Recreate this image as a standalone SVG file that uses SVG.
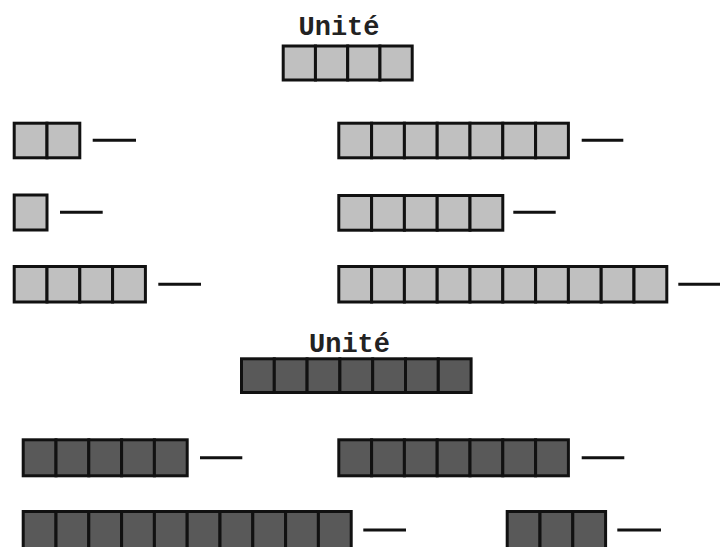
<svg xmlns="http://www.w3.org/2000/svg" width="720" height="547" viewBox="0 0 720 547">
<style>
.l{fill:#c0c0c0;stroke:#111;stroke-width:3}
.d{fill:#595959;stroke:#111;stroke-width:3}
.t{font-family:"Liberation Mono","DejaVu Sans Mono",monospace;font-weight:bold;font-size:27px;fill:#222;text-anchor:middle}
.b{stroke:#111;stroke-width:3;fill:none}
</style>
<rect width="720" height="547" fill="#fff"/>
<g id="unit-light">
<text class="t" x="339" y="35">Unité</text>
<rect class="l" x="283.2" y="46" width="32.25" height="34"/><rect class="l" x="315.45" y="46" width="32.25" height="34"/><rect class="l" x="347.7" y="46" width="32.25" height="34"/><rect class="l" x="379.95" y="46" width="32.25" height="34"/>
</g>
<g id="light-l1">
<rect class="l" x="14.2" y="123.2" width="32.8" height="34.6"/><rect class="l" x="47" y="123.2" width="32.8" height="34.6"/>
</g>
<g id="light-l2">
<rect class="l" x="14.2" y="195" width="32.8" height="35"/>
</g>
<g id="light-l3">
<rect class="l" x="14.2" y="266.5" width="32.8" height="35.5"/><rect class="l" x="47" y="266.5" width="32.8" height="35.5"/><rect class="l" x="79.8" y="266.5" width="32.8" height="35.5"/><rect class="l" x="112.6" y="266.5" width="32.8" height="35.5"/>
</g>
<g id="light-r1">
<rect class="l" x="338.8" y="123.2" width="32.8" height="34.6"/><rect class="l" x="371.6" y="123.2" width="32.8" height="34.6"/><rect class="l" x="404.4" y="123.2" width="32.8" height="34.6"/><rect class="l" x="437.2" y="123.2" width="32.8" height="34.6"/><rect class="l" x="470" y="123.2" width="32.8" height="34.6"/><rect class="l" x="502.8" y="123.2" width="32.8" height="34.6"/><rect class="l" x="535.6" y="123.2" width="32.8" height="34.6"/>
</g>
<g id="light-r2">
<rect class="l" x="338.8" y="195.5" width="32.8" height="34.7"/><rect class="l" x="371.6" y="195.5" width="32.8" height="34.7"/><rect class="l" x="404.4" y="195.5" width="32.8" height="34.7"/><rect class="l" x="437.2" y="195.5" width="32.8" height="34.7"/><rect class="l" x="470" y="195.5" width="32.8" height="34.7"/>
</g>
<g id="light-r3">
<rect class="l" x="338.8" y="266.5" width="32.8" height="35.5"/><rect class="l" x="371.6" y="266.5" width="32.8" height="35.5"/><rect class="l" x="404.4" y="266.5" width="32.8" height="35.5"/><rect class="l" x="437.2" y="266.5" width="32.8" height="35.5"/><rect class="l" x="470" y="266.5" width="32.8" height="35.5"/><rect class="l" x="502.8" y="266.5" width="32.8" height="35.5"/><rect class="l" x="535.6" y="266.5" width="32.8" height="35.5"/><rect class="l" x="568.4" y="266.5" width="32.8" height="35.5"/><rect class="l" x="601.2" y="266.5" width="32.8" height="35.5"/><rect class="l" x="634" y="266.5" width="32.8" height="35.5"/>
</g>
<g id="unit-dark">
<text class="t" x="349.5" y="351.7">Unité</text>
<rect class="d" x="241.5" y="358.8" width="32.8" height="33.7"/><rect class="d" x="274.3" y="358.8" width="32.8" height="33.7"/><rect class="d" x="307.1" y="358.8" width="32.8" height="33.7"/><rect class="d" x="339.9" y="358.8" width="32.8" height="33.7"/><rect class="d" x="372.7" y="358.8" width="32.8" height="33.7"/><rect class="d" x="405.5" y="358.8" width="32.8" height="33.7"/><rect class="d" x="438.3" y="358.8" width="32.8" height="33.7"/>
</g>
<g id="dark-l1">
<rect class="d" x="23.2" y="439.8" width="32.8" height="36"/><rect class="d" x="56" y="439.8" width="32.8" height="36"/><rect class="d" x="88.8" y="439.8" width="32.8" height="36"/><rect class="d" x="121.6" y="439.8" width="32.8" height="36"/><rect class="d" x="154.4" y="439.8" width="32.8" height="36"/>
</g>
<g id="dark-r1">
<rect class="d" x="338.8" y="439.8" width="32.8" height="36"/><rect class="d" x="371.6" y="439.8" width="32.8" height="36"/><rect class="d" x="404.4" y="439.8" width="32.8" height="36"/><rect class="d" x="437.2" y="439.8" width="32.8" height="36"/><rect class="d" x="470" y="439.8" width="32.8" height="36"/><rect class="d" x="502.8" y="439.8" width="32.8" height="36"/><rect class="d" x="535.6" y="439.8" width="32.8" height="36"/>
</g>
<g id="dark-l2">
<rect class="d" x="23.2" y="511.5" width="32.8" height="40"/><rect class="d" x="56" y="511.5" width="32.8" height="40"/><rect class="d" x="88.8" y="511.5" width="32.8" height="40"/><rect class="d" x="121.6" y="511.5" width="32.8" height="40"/><rect class="d" x="154.4" y="511.5" width="32.8" height="40"/><rect class="d" x="187.2" y="511.5" width="32.8" height="40"/><rect class="d" x="220" y="511.5" width="32.8" height="40"/><rect class="d" x="252.8" y="511.5" width="32.8" height="40"/><rect class="d" x="285.6" y="511.5" width="32.8" height="40"/><rect class="d" x="318.4" y="511.5" width="32.8" height="40"/>
</g>
<g id="dark-r2">
<rect class="d" x="507.2" y="511.5" width="32.8" height="40"/><rect class="d" x="540" y="511.5" width="32.8" height="40"/><rect class="d" x="572.8" y="511.5" width="32.8" height="40"/>
</g>
<g id="blanks">
<line class="b" x1="92.7" y1="140.3" x2="136" y2="140.3"/>
<line class="b" x1="60" y1="212.3" x2="102.7" y2="212.3"/>
<line class="b" x1="158.3" y1="284.3" x2="201" y2="284.3"/>
<line class="b" x1="581.7" y1="140.3" x2="623.3" y2="140.3"/>
<line class="b" x1="513.3" y1="212.3" x2="555.7" y2="212.3"/>
<line class="b" x1="678.3" y1="284.3" x2="720" y2="284.3"/>
<line class="b" x1="200" y1="457.7" x2="242.3" y2="457.7"/>
<line class="b" x1="581.7" y1="457.7" x2="624.3" y2="457.7"/>
<line class="b" x1="363.3" y1="530" x2="406" y2="530"/>
<line class="b" x1="617.3" y1="530" x2="661" y2="530"/>
</g>
</svg>
